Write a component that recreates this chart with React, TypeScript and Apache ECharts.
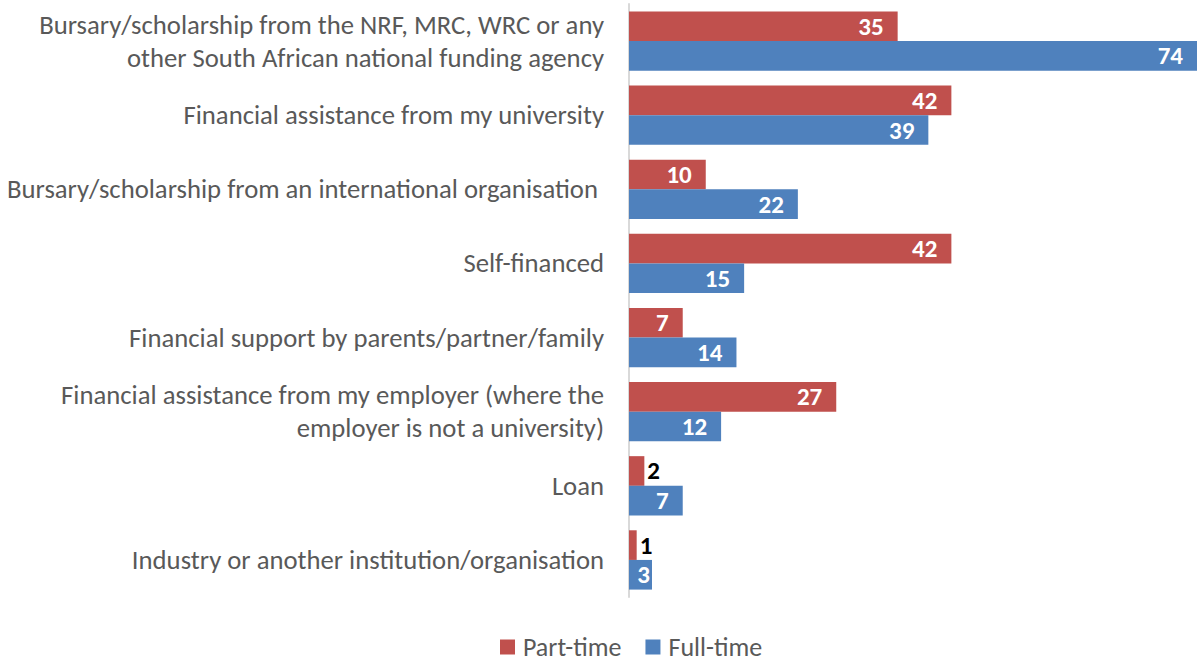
import React, { useEffect, useRef } from "react";
import * as echarts from "echarts";

const categories = [
  "Bursary/scholarship from the NRF, MRC, WRC or any\nother South African national funding agency",
  "Financial assistance from my university",
  "Bursary/scholarship from an international organisation ",
  "Self-financed",
  "Financial support by parents/partner/family",
  "Financial assistance from my employer (where the\nemployer is not a university)",
  "Loan",
  "Industry or another institution/organisation",
];
const partTime = [35, 42, 10, 42, 7, 27, 2, 1];
const fullTime = [74, 39, 22, 15, 14, 12, 7, 3];

const FONT = "Carlito, Lato, 'Open Sans', sans-serif";

function labelFor(v: number, outsideBelow: number, narrowBelow: number) {
  if (v < outsideBelow) {
    return { value: v, label: { position: "right", color: "#000000", distance: 3 } };
  }
  if (v < narrowBelow) {
    return { value: v, label: { position: "insideRight", distance: 2 } };
  }
  return { value: v };
}

export default function App() {
  const ref = useRef<HTMLDivElement>(null);
  useEffect(() => {
    if (!ref.current) return;
    const chart = echarts.init(ref.current, undefined, { renderer: "svg" });
    const barLabel = {
      show: true,
      position: "insideRight",
      distance: 14,
      color: "#ffffff",
      fontWeight: "bold",
      fontFamily: FONT,
      fontSize: 25,
    };
    chart.setOption({
      animation: false,
      grid: { left: 629, right: 1, top: 4, bottom: 67, containLabel: false },
      legend: {
        top: 634,
        left: 500,
        padding: 0,
        itemWidth: 15,
        itemHeight: 15,
        itemGap: 24,
        icon: "rect",
        textStyle: {
          fontFamily: FONT,
          fontSize: 26,
          lineHeight: 26,
          color: "#595959",
          padding: [0, 0, 0, 3],
        },
        data: ["Part-time", "Full-time"],
      },
      xAxis: {
        type: "value",
        min: 0,
        max: 74,
        show: false,
        splitLine: { show: false },
      },
      yAxis: {
        type: "category",
        inverse: true,
        data: categories,
        axisLine: { show: true, lineStyle: { color: "#d9d9d9", width: 2 } },
        axisTick: { show: false },
        axisLabel: {
          margin: 25,
          fontFamily: FONT,
          fontSize: 26.7,
          color: "#595959",
          lineHeight: 33,
          align: "right",
        },
      },
      series: [
        {
          name: "Part-time",
          type: "bar",
          data: partTime.map((v) => labelFor(v, 3, 0)),
          itemStyle: { color: "#C0504D" },
          barGap: "0%",
          barCategoryGap: "20%",
          label: barLabel,
        },
        {
          name: "Full-time",
          type: "bar",
          data: fullTime.map((v) => labelFor(v, 0, 5)),
          itemStyle: { color: "#4F81BD" },
          barGap: "0%",
          barCategoryGap: "20%",
          label: barLabel,
        },
      ],
    });
    return () => chart.dispose();
  }, []);
  return <div ref={ref} style={{ width: 1198, height: 664, position: "absolute", left: 0, top: 0 }} />;
}
